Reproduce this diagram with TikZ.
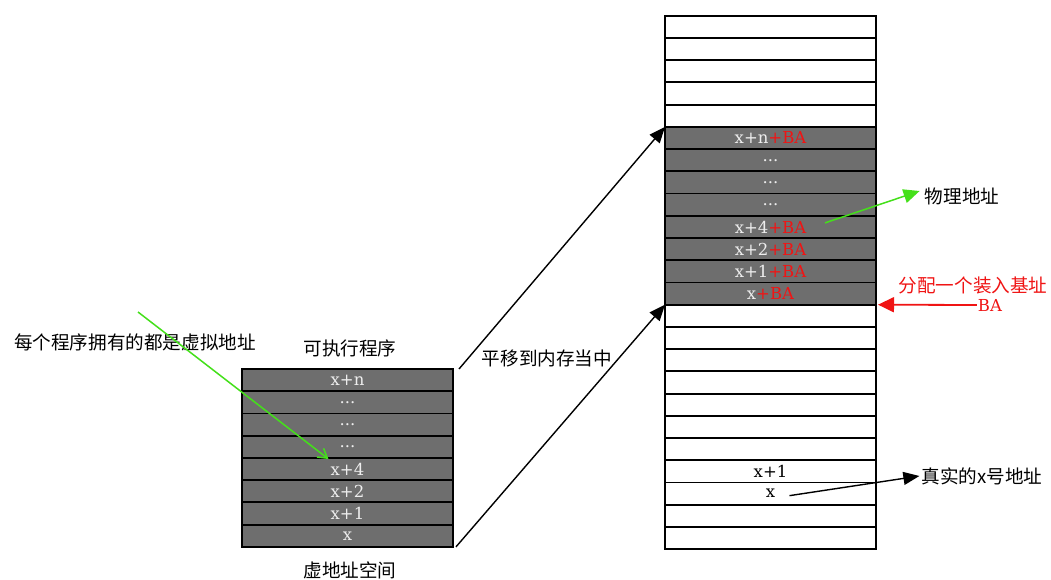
\documentclass[tikz,border=0pt]{standalone}
\usepackage{fontspec}
\setmainfont{DejaVu Serif}
\newfontfamily\cjk{Noto Sans CJK SC}
\usetikzlibrary{arrows.meta}
\definecolor{cellgray}{HTML}{6E6E6E}
\definecolor{lbl}{HTML}{EEEEEE}
\definecolor{arrgreen}{HTML}{44E01A}
\definecolor{arrred}{HTML}{F01414}
\tikzset{
  cell/.style={draw=black, line width=1.8pt, minimum width=211pt, minimum height=22.23pt,
    inner sep=0pt, outer sep=0pt, font=\fontsize{16.5}{16.5}\selectfont},
  usedcell/.style={cell, fill=cellgray, text=lbl},
  cjklabel/.style={font=\cjk\fontsize{18.6}{18.6}\selectfont, inner sep=2pt},
  blackarrow/.style={line width=1.4pt, -{Triangle[length=16pt,width=13pt]}},
  greenarrow/.style={draw=arrgreen, line width=1.5pt},
}
\newcommand{\plusba}{{\color{arrred}+BA}}
\begin{document}
\begin{tikzpicture}[x=1pt,y=-1pt]
\useasboundingbox[fill=white] (0,0) rectangle (1051,580);
% memory column
\foreach \i in {0,...,4,13,14,...,23} {
  \node[cell] (m\i) at (770.5, {15.7+(\i+0.5)*22.23}) {};
}
\foreach \i/\t in {5/{x+n\plusba},6/{...},7/{...},8/{...},9/{x+4\plusba},10/{x+2\plusba},11/{x+1\plusba},12/{x\plusba}} {
  \node[usedcell] (m\i) at (770.5, {15.7+(\i+0.5)*22.23}) {\t};
}
\node[font=\fontsize{16.5}{16.5}\selectfont] (m20t) at (m20.center) {x+1};
\node[font=\fontsize{16.5}{16.5}\selectfont] (m21t) at (m21.center) {x};
% program block
\foreach \i/\t in {0/{x+n},1/{...},2/{...},3/{...},4/{x+4},5/{x+2},6/{x+1},7/{x}} {
  \node[usedcell] (p\i) at (347.5, {369+(\i+0.5)*22.23}) {\t};
}
% labels
\node[cjklabel] (exe) at (350,348) {可执行程序};
\node[cjklabel] (vas) at (350,570) {虚地址空间};
\node[cjklabel] (each) at (135,342) {每个程序拥有的都是虚拟地址};
\node[cjklabel] (shift) at (547,358) {平移到内存当中};
\node[cjklabel] (phys) at (962,196) {物理地址};
\node[cjklabel, text=arrred] (alloc) at (973,285) {分配一个装入基址};
\node[font=\fontsize{16.5}{16.5}\selectfont, text=arrred, inner sep=1pt] (ba) at (990,305) {BA};
\node[cjklabel] (real) at (982,476) {真实的x号地址};
% connectors
\draw[blackarrow] ([xshift=6pt]p0.north east) -- (m5.north west);
\draw[blackarrow] ([xshift=3pt]p7.south east) -- (m13.north west);
\coordinate (gstart) at (138,312);
\draw[greenarrow, -{Straight Barb[length=9pt,width=11pt]}] (gstart) -- ([shift={(-19,-10)}]p4.center);
\draw[greenarrow, -{Triangle[length=16pt,width=14pt]}] ([shift={(54.5,-4)}]m9.center) -- ([shift={(-3,-5)}]phys.west);
\draw[draw=arrred, line width=1.8pt, -{Triangle[length=16pt,width=15pt]}] (ba.west) -- ([xshift=2pt]m12.south east);
\draw[blackarrow] ([shift={(19,2)}]m21.center) -- (real.west);
\end{tikzpicture}
\end{document}
